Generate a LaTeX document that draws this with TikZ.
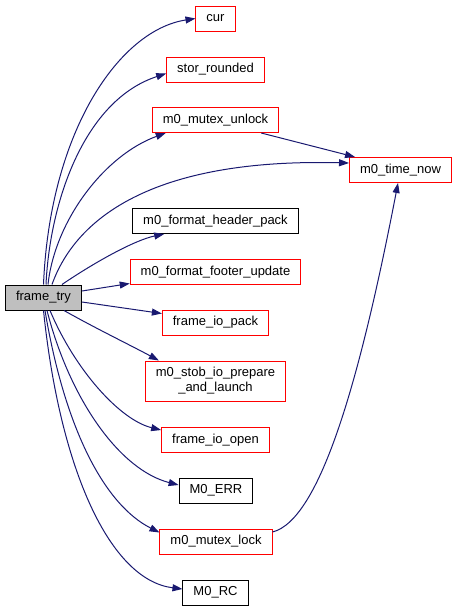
\documentclass[tikz,border=0pt]{standalone}
\usepackage{fontspec}
\setmainfont{Liberation Sans}
\usepackage{tikz}
\usetikzlibrary{arrows.meta}

\definecolor{edgeblue}{HTML}{191970}
\definecolor{callergrey}{HTML}{BFBFBF}

\begin{document}
\begin{tikzpicture}[x=1pt, y=-1pt,
	fnbox/.style={draw, line width=1pt, rectangle, inner xsep=10.5pt, inner ysep=0pt, minimum height=25pt, font=\fontsize{13}{15}\selectfont, align=center},
	redbox/.style={fnbox, draw=red},
	blackbox/.style={fnbox, draw=black},
	callbox/.style={fnbox, draw=black, fill=callergrey},
	call/.style={draw=edgeblue, line width=1pt, -{Triangle[length=10pt, width=7pt]}}]
	\useasboundingbox (0,0) rectangle (457,611);

	\node[callbox] (ft) at (43.5,297.5) {frame\_try};

	\node[redbox] (cur) at (215.5,18.5) {cur};
	\node[redbox] (stor) at (215.5,69.5) {stor\_rounded};
	\node[redbox] (unlock) at (215.5,120) {m0\_mutex\_unlock};
	\node[redbox] (tn) at (400.5,170) {m0\_time\_now};
	\node[blackbox] (hdr) at (215.5,221) {m0\_format\_header\_pack};
	\node[redbox] (ftr) at (215.5,272) {m0\_format\_footer\_update};
	\node[redbox] (iop) at (215.5,322.5) {frame\_io\_pack};
	\node[redbox, minimum height=40pt] (stob) at (215.5,381) {m0\_stob\_io\_prepare\\\_and\_launch};
	\node[redbox] (ioo) at (215.5,440) {frame\_io\_open};
	\node[blackbox] (err) at (216,490.5) {M0\_ERR};
	\node[redbox] (lck) at (216,541.5) {m0\_mutex\_lock};
	\node[blackbox] (rc) at (215.5,592.5) {M0\_RC};

	% calls from frame_try
	\draw[call] (ft.north) .. controls (50,130) and (120,30) .. (cur.west);
	\draw[call] ([xshift=2.5pt]ft.north) .. controls (50,200) and (85,100) .. ([yshift=-4pt]stor.west);
	\draw[call] ([xshift=4.5pt]ft.north) .. controls (55,220) and (105,155) .. ([xshift=14pt]unlock.south west);
	\draw[call] ([xshift=8.5pt]ft.north) .. controls (75,220) and (150,158) .. ([yshift=7pt]tn.west);
	\draw[call] ([xshift=18.5pt]ft.north) .. controls (95,262) and (135,240) .. ([xshift=32pt]hdr.south west);
	\draw[call] ([yshift=6.5pt]ft.east) -- ([yshift=1.5pt]ftr.south west);
	\draw[call] ([yshift=-4.5pt]ft.east) -- ([yshift=-4pt]iop.north west);
	\draw[call] ([xshift=20.5pt]ft.south) .. controls (95,328) and (130,345) .. ([xshift=14pt]stob.north west);
	\draw[call] ([xshift=6.5pt]ft.south) .. controls (75,370) and (120,420) .. ([yshift=-3pt]ioo.north west);
	\draw[call] ([xshift=3.5pt]ft.south) .. controls (70,400) and (120,470) .. ([yshift=5.5pt]err.west);
	\draw[call] ([xshift=1.5pt]ft.south) .. controls (65,430) and (105,505) .. ([yshift=-4pt]lck.north west);
	\draw[call] (ft.south) .. controls (60,470) and (110,580) .. ([yshift=3.5pt]rc.west);

	% calls into m0_time_now
	\draw[call] ([xshift=-18pt]unlock.south east) -- ([xshift=6pt]tn.north west);
	\draw[call] ([yshift=9.5pt]lck.east) .. controls (320,520) and (360,380) .. ([xshift=-2.5pt]tn.south);

\end{tikzpicture}
\end{document}
